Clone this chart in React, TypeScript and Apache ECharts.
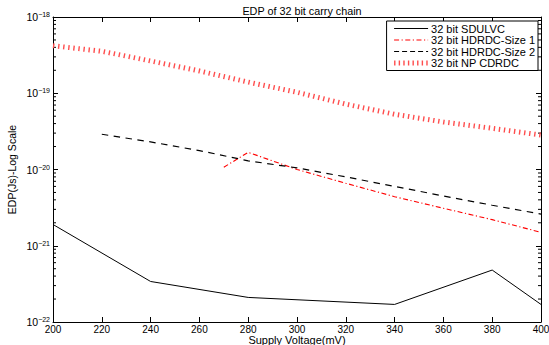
import React, { useEffect, useRef } from "react";
import * as echarts from "echarts";

const TITLE = "EDP of 32 bit carry chain";
const X_NAME = "Supply Voltage(mV)";
const Y_NAME = "EDP(Js)-Log Scale";
const SERIES_NAMES = ["32 bit SDULVC", "32 bit HDRDC-Size 1", "32 bit HDRDC-Size 2", "32 bit NP CDRDC"];

const sdulvcX = [200, 240, 280, 340, 380, 400];
const sdulvcY = [1.9e-21, 3.4e-22, 2.1e-22, 1.7e-22, 4.8e-22, 1.7e-22];

const hdrdc1X = [270, 280, 300, 320, 340, 360, 380, 400];
const hdrdc1Y = [1.07e-20, 1.68e-20, 1.0e-20, 6.6e-21, 4.4e-21, 3.1e-21, 2.2e-21, 1.5e-21];

const hdrdc2X = [220, 240, 260, 280, 300, 320, 340, 360, 380, 400];
const hdrdc2Y = [2.9e-20, 2.3e-20, 1.77e-20, 1.3e-20, 1.05e-20, 8.0e-21, 6.0e-21, 4.5e-21, 3.4e-21, 2.6e-21];

const npX = [200, 220, 240, 260, 280, 300, 320, 340, 360, 380, 400];
const npY = [4.2e-19, 3.55e-19, 2.65e-19, 1.96e-19, 1.4e-19, 1.03e-19, 7.2e-20, 5.3e-20, 4.2e-20, 3.47e-20, 2.83e-20];

const X_MIN = 200;
const X_MAX = 400;
const X_STEP = 20;
// y axis drawn in decades (exponent of 10)
const Y_EXP_MIN = -22;
const Y_EXP_MAX = -18;
const DECADE_EXPS = [-22, -21, -20, -19];
const MINOR_MULTS = [2, 3, 4, 5, 6, 7, 8, 9];

const pair = (xs: number[], ys: number[]) => xs.map((x, i) => [x, Math.log10(ys[i])]);

export default function App() {
  const ref = useRef<HTMLDivElement>(null);
  useEffect(() => {
    if (!ref.current) return;
    const chart = echarts.init(ref.current, undefined, { renderer: "svg" });
    const font = "Liberation Sans";
    const minorVals: number[][] = [];
    DECADE_EXPS.forEach((e) => MINOR_MULTS.forEach((m) => minorVals.push([X_MIN, e + Math.log10(m)])));
    const NP_COLOR = "#ff4d4d";
    const legendStyles = [
      { color: "#000", width: 1, type: "solid" },
      { color: "#ff0000", width: 1.1, type: [5, 2.5, 1.2, 2.5] },
      { color: "#000", width: 1.1, type: [5, 3] },
      { color: NP_COLOR, width: 5, type: [1.4, 3.2], cap: "butt" },
    ];
    const option: any = {
      animation: false,
      backgroundColor: "#fff",
      textStyle: { fontFamily: font },
      title: {
        text: TITLE,
        left: 297,
        textAlign: "center",
        top: 0,
        textStyle: { fontFamily: font, fontSize: 10.8, fontWeight: "normal", color: "#000" },
      },
      grid: { left: 53, right: 8, top: 17, bottom: 23, containLabel: false, outerBoundsMode: "none" },
      legend: {
        orient: "vertical",
        right: 11,
        top: 21,
        data: SERIES_NAMES.map((n, i) => ({
          name: n,
          itemStyle: { opacity: 0 },
          lineStyle: legendStyles[i],
        })),
        itemWidth: 34,
        itemHeight: 8,
        itemGap: 0.5,
        padding: [2, 3, 2, 5],
        borderColor: "#000",
        borderWidth: 1,
        backgroundColor: "#fff",
        borderRadius: 0,
        textStyle: { fontFamily: font, fontSize: 11, color: "#000", lineHeight: 10, padding: [0, 0, 0, -2] },
      },
      xAxis: [
        {
          type: "value",
          min: X_MIN,
          max: X_MAX,
          interval: X_STEP,
          position: "bottom",
          name: X_NAME,
          nameLocation: "middle",
          nameGap: 12.5,
          nameMoveOverlap: false,
          nameTextStyle: { fontFamily: font, fontSize: 11, color: "#000" },
          axisLine: { lineStyle: { color: "#000", width: 1 } },
          axisTick: { inside: true, length: 5, lineStyle: { color: "#000" } },
          axisLabel: { fontFamily: font, fontSize: 10, color: "#000", margin: 2 },
          splitLine: { show: false },
        },
        {
          type: "value",
          min: X_MIN,
          max: X_MAX,
          interval: X_STEP,
          position: "top",
          axisLine: { lineStyle: { color: "#000", width: 1 } },
          axisTick: { inside: true, length: 5, lineStyle: { color: "#000" } },
          axisLabel: { show: false },
          splitLine: { show: false },
        },
      ],
      yAxis: [
        {
          type: "value",
          min: Y_EXP_MIN,
          max: Y_EXP_MAX,
          interval: 1,
          position: "left",
          name: Y_NAME,
          nameLocation: "middle",
          nameGap: 36,
          nameMoveOverlap: false,
          nameTextStyle: { fontFamily: font, fontSize: 10.5, color: "#000" },
          axisLine: { show: true, lineStyle: { color: "#000", width: 1 } },
          axisTick: { show: true, inside: true, length: 5, lineStyle: { color: "#000" } },
          axisLabel: {
            margin: 3,
            formatter: (v: number) => {
              const e = Math.round(v);
              return "{b|10}{s|" + (e < 0 ? "\u2212" + Math.abs(e) : String(e)) + "}";
            },
            rich: {
              b: { fontFamily: font, fontSize: 10.5, color: "#000", lineHeight: 12, verticalAlign: "middle" },
              s: { fontFamily: font, fontSize: 7, color: "#000", lineHeight: 7, verticalAlign: "top", padding: [0, 0, 10, 0] },
            },
          },
          splitLine: { show: false },
        },
        {
          type: "value",
          min: Y_EXP_MIN,
          max: Y_EXP_MAX,
          interval: 1,
          position: "right",
          axisLine: { show: true, lineStyle: { color: "#000", width: 1 } },
          axisTick: { show: true, inside: true, length: 5, lineStyle: { color: "#000" } },
          axisLabel: { show: false },
          splitLine: { show: false },
        },
      ],
      series: [
        {
          name: SERIES_NAMES[0],
          type: "line",
          data: pair(sdulvcX, sdulvcY),
          showSymbol: false,
          symbol: "none",
          lineStyle: { color: "#000", width: 1 },
          itemStyle: { color: "#000" },
        },
        {
          name: SERIES_NAMES[1],
          type: "line",
          data: pair(hdrdc1X, hdrdc1Y),
          showSymbol: false,
          symbol: "none",
          lineStyle: { color: "#ff0000", width: 1.1, type: [5, 2.5, 1.2, 2.5] },
          itemStyle: { color: "#ff0000" },
        },
        {
          name: SERIES_NAMES[2],
          type: "line",
          data: pair(hdrdc2X, hdrdc2Y),
          showSymbol: false,
          symbol: "none",
          lineStyle: { color: "#000", width: 1.2, type: [6.5, 5.5] },
          itemStyle: { color: "#000" },
        },
        {
          name: SERIES_NAMES[3],
          type: "line",
          data: pair(npX, npY),
          showSymbol: false,
          symbol: "none",
          lineStyle: { color: NP_COLOR, width: 5, type: [1.4, 3.7], cap: "butt" },
          itemStyle: { color: NP_COLOR },
        },
        {
          name: "minorTicks",
          type: "custom",
          silent: true,
          data: minorVals,
          encode: { x: 0, y: 1 },
          renderItem: (_p: any, api: any) => {
            const v = api.value(1);
            const pl = api.coord([X_MIN, v]);
            const pr = api.coord([X_MAX, v]);
            return {
              type: "group",
              children: [
                { type: "line", shape: { x1: pl[0], y1: pl[1], x2: pl[0] + 3, y2: pl[1] }, style: { stroke: "#000", lineWidth: 1 } },
                { type: "line", shape: { x1: pr[0], y1: pr[1], x2: pr[0] - 3, y2: pr[1] }, style: { stroke: "#000", lineWidth: 1 } },
              ],
            };
          },
        },
      ],
    };
    chart.setOption(option);
    return () => chart.dispose();
  }, []);
  return <div ref={ref} style={{ width: 549, height: 345, position: "absolute", left: 0, top: 0 }} />;
}
